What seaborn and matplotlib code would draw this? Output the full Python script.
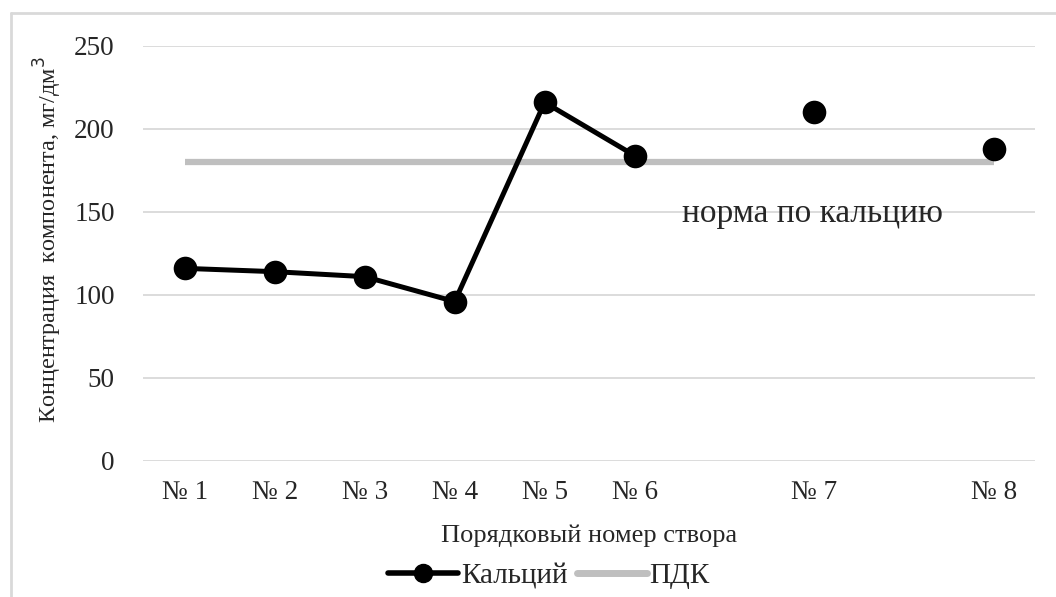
import numpy as np
import pandas as pd
import matplotlib.pyplot as plt
import seaborn as sns
from matplotlib.lines import Line2D

# ==================================================
# DATA
# ==================================================

stations = ["№ 1", "№ 2", "№ 3", "№ 4", "№ 5", "№ 6", "№ 7", "№ 8"]
x_pos = [1, 2, 3, 4, 5, 6, 8, 10]
calcium = [116, 114, 111, 96, 216, 184, 210, 188]
pdk_value = 180
connected = [True, True, True, True, True, True, False, False]

df = pd.DataFrame({"x": x_pos, "Кальций": calcium, "line": connected})
pdk_df = pd.DataFrame({"x": [x_pos[0], x_pos[-1]], "ПДК": [pdk_value, pdk_value]})

# ==================================================
# STYLE
# ==================================================

sns.set_style("white")
plt.rcParams["font.family"] = ["Liberation Serif", "DejaVu Serif"]

fig = plt.figure(figsize=(10.56, 5.97), dpi=100)
ax = fig.add_axes([0.135, 0.228, 0.845, 0.695])

# ==================================================
# PLOT
# ==================================================

ax.yaxis.grid(True, color="#D9D9D9", linewidth=1.3)
ax.set_axisbelow(True)

sns.lineplot(data=pdk_df, x="x", y="ПДК", color="#BFBFBF", linewidth=4.5,
             solid_capstyle="butt", ax=ax, zorder=2)

sns.lineplot(data=df[df["line"]], x="x", y="Кальций", color="black",
             linewidth=3.6, marker="o", markersize=17, markeredgewidth=0,
             ax=ax, zorder=3)

sns.scatterplot(data=df[~df["line"]], x="x", y="Кальций", color="black",
                s=289, linewidth=0, ax=ax, zorder=3)

ax.text(6.53, 149, "норма по кальцию", fontsize=24, va="center", ha="left")

# ==================================================
# AXES
# ==================================================

ax.set_xlim(0.53, 10.45)
ax.set_ylim(0, 250)
ax.set_yticks([0, 50, 100, 150, 200, 250])
ax.set_xticks(x_pos)
ax.set_xticklabels(stations)
ax.tick_params(axis="x", length=0, pad=14, labelsize=19.5)
ax.tick_params(axis="y", length=0, pad=20, labelsize=19.5)

for s in ax.spines.values():
    s.set_visible(False)

ax.set_xlabel("Порядковый номер створа", fontsize=19, labelpad=14)
ax.set_ylabel("Концентрация  компонента, мг/дм$^3$", fontsize=17.5)
ax.yaxis.set_label_coords(-0.088, 0.533)

handles = [
    Line2D([0], [0], color="black", linewidth=4, marker="o", markersize=13),
    Line2D([0], [0], color="#BFBFBF", linewidth=5),
]
fig.legend(handles, ["Кальций", "ПДК"], loc="center", bbox_to_anchor=(0.52, 0.035),
           ncol=2, frameon=False, fontsize=21, handlelength=2.4,
           handletextpad=0.1, columnspacing=0.3, borderpad=0)

# figure border
fig.add_artist(Line2D([11 / 1056, 11 / 1056], [0, 1 - 13 / 597], color="#D9D9D9",
                      linewidth=2, transform=fig.transFigure))
fig.add_artist(Line2D([11 / 1056, 1], [1 - 13 / 597, 1 - 13 / 597], color="#D9D9D9",
                      linewidth=2, transform=fig.transFigure))

plt.savefig("out.png", dpi=100)
